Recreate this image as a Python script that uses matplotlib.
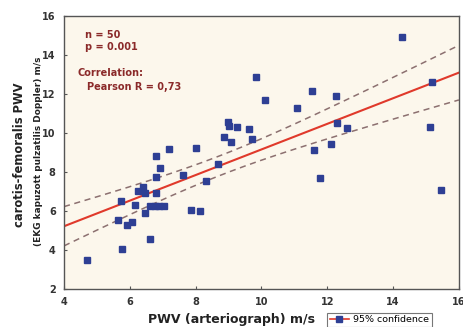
import numpy as np
import matplotlib
matplotlib.use('Agg')
import matplotlib.pyplot as plt
from matplotlib.lines import Line2D

# PWV arteriograph (x) vs carotis-femoralis PWV (y), m/s
pwv_art = [4.70, 5.76, 6.61, 5.65, 5.90, 6.06, 5.74, 6.15, 6.46, 6.62,
           6.76, 6.89, 7.03, 6.24, 6.40, 6.47, 6.81, 6.81, 6.92, 6.79,
           7.20, 7.61, 7.87, 8.13, 8.00, 8.31, 8.67, 9.83, 10.10, 11.09,
           11.55, 12.26, 8.98, 9.02, 9.26, 9.63, 8.86, 9.06, 9.72, 14.27,
           15.19, 15.13, 12.31, 12.61, 11.60, 12.12, 11.79, 15.46]
pwv_cf = [3.50, 4.05, 4.56, 5.53, 5.30, 5.46, 6.53, 6.32, 5.91, 6.23,
          6.25, 6.25, 6.23, 7.04, 7.21, 6.94, 6.93, 7.75, 8.22, 8.81,
          9.17, 7.83, 6.06, 5.98, 9.25, 7.52, 8.42, 12.85, 11.69, 11.26,
          12.15, 11.89, 10.54, 10.36, 10.31, 10.22, 9.80, 9.54, 9.67, 14.91,
          12.58, 10.31, 10.53, 10.27, 9.12, 9.45, 7.70, 7.06]

x_ticks = [4, 6, 8, 10, 12, 14, 16]
y_ticks = [2, 4, 6, 8, 10, 12, 14, 16]

# linear fit + 95% confidence band of the mean
x = np.array(pwv_art)
y = np.array(pwv_cf)
n = len(x)
slope, intercept = np.polyfit(x, y, 1)
xs = np.linspace(4, 16, 200)
fit = intercept + slope * xs
resid = y - (intercept + slope * x)
s = np.sqrt(np.sum(resid**2) / (n - 2))
sxx = np.sum((x - x.mean())**2)
band = 2.01 * s * np.sqrt(1 / n + (xs - x.mean())**2 / sxx)

fig = plt.figure(figsize=(4.64, 3.27), dpi=100)
ax = fig.add_axes([0.138, 0.116, 0.851, 0.836])
ax.set_facecolor('#fcf7ec')

ax.plot(xs, fit + band, color='#8c7070', lw=1.1, ls=(0, (4, 3)))
ax.plot(xs, fit - band, color='#8c7070', lw=1.1, ls=(0, (4, 3)))
ax.plot(xs, fit, color='#e0392b', lw=1.5)
ax.plot(pwv_art, pwv_cf, 's', color='#2e3f94', ms=4.5, mec='#2e3f94')

ax.set_xlim(4, 16)
ax.set_ylim(2, 16)
ax.set_xticks(x_ticks)
ax.set_yticks(y_ticks)
ax.tick_params(direction='in', length=2, width=0.8, color='#555555',
               labelsize=7, labelcolor='#333333', pad=6)
for lab in ax.get_xticklabels() + ax.get_yticklabels():
    lab.set_fontweight('bold')
for sp in ax.spines.values():
    sp.set_color('#555555')
    sp.set_linewidth(1.0)

txt = dict(color='#8b2a2a', fontsize=7, fontweight='bold', transform=ax.transAxes)
ax.text(0.053, 0.92, 'n = 50', **txt)
ax.text(0.053, 0.873, 'p = 0.001', **txt)
ax.text(0.033, 0.778, 'Correlation:', **txt)
ax.text(0.058, 0.73, 'Pearson R = 0,73', **txt)

fig.text(0.042, 0.526, 'carotis-femoralis PWV', rotation=90, ha='center', va='center',
         fontsize=8.3, fontweight='bold', color='#222222')
fig.text(0.082, 0.538, '(EKG kapuzott pulzatilis Doppler) m/s', rotation=90, ha='center',
         va='center', fontsize=6.4, fontweight='bold', color='#222222')
fig.text(0.498, 0.022, 'PWV (arteriograph) m/s', ha='center', va='center',
         fontsize=9, fontweight='bold', color='#222222')

handle = Line2D([0], [0], color='#e0392b', lw=1.2, marker='s', ms=4,
                markerfacecolor='#2e3f94', markeredgecolor='#2e3f94')
leg = fig.legend([handle], ['95% confidence'], loc='lower left',
                 bbox_to_anchor=(0.695, -0.015), fontsize=6.8, frameon=True,
                 fancybox=False, edgecolor='#555555', handlelength=2.0,
                 borderpad=0.3, handletextpad=0.4)
leg.get_frame().set_linewidth(0.8)

fig.savefig('out.png', dpi=100, facecolor='white')
